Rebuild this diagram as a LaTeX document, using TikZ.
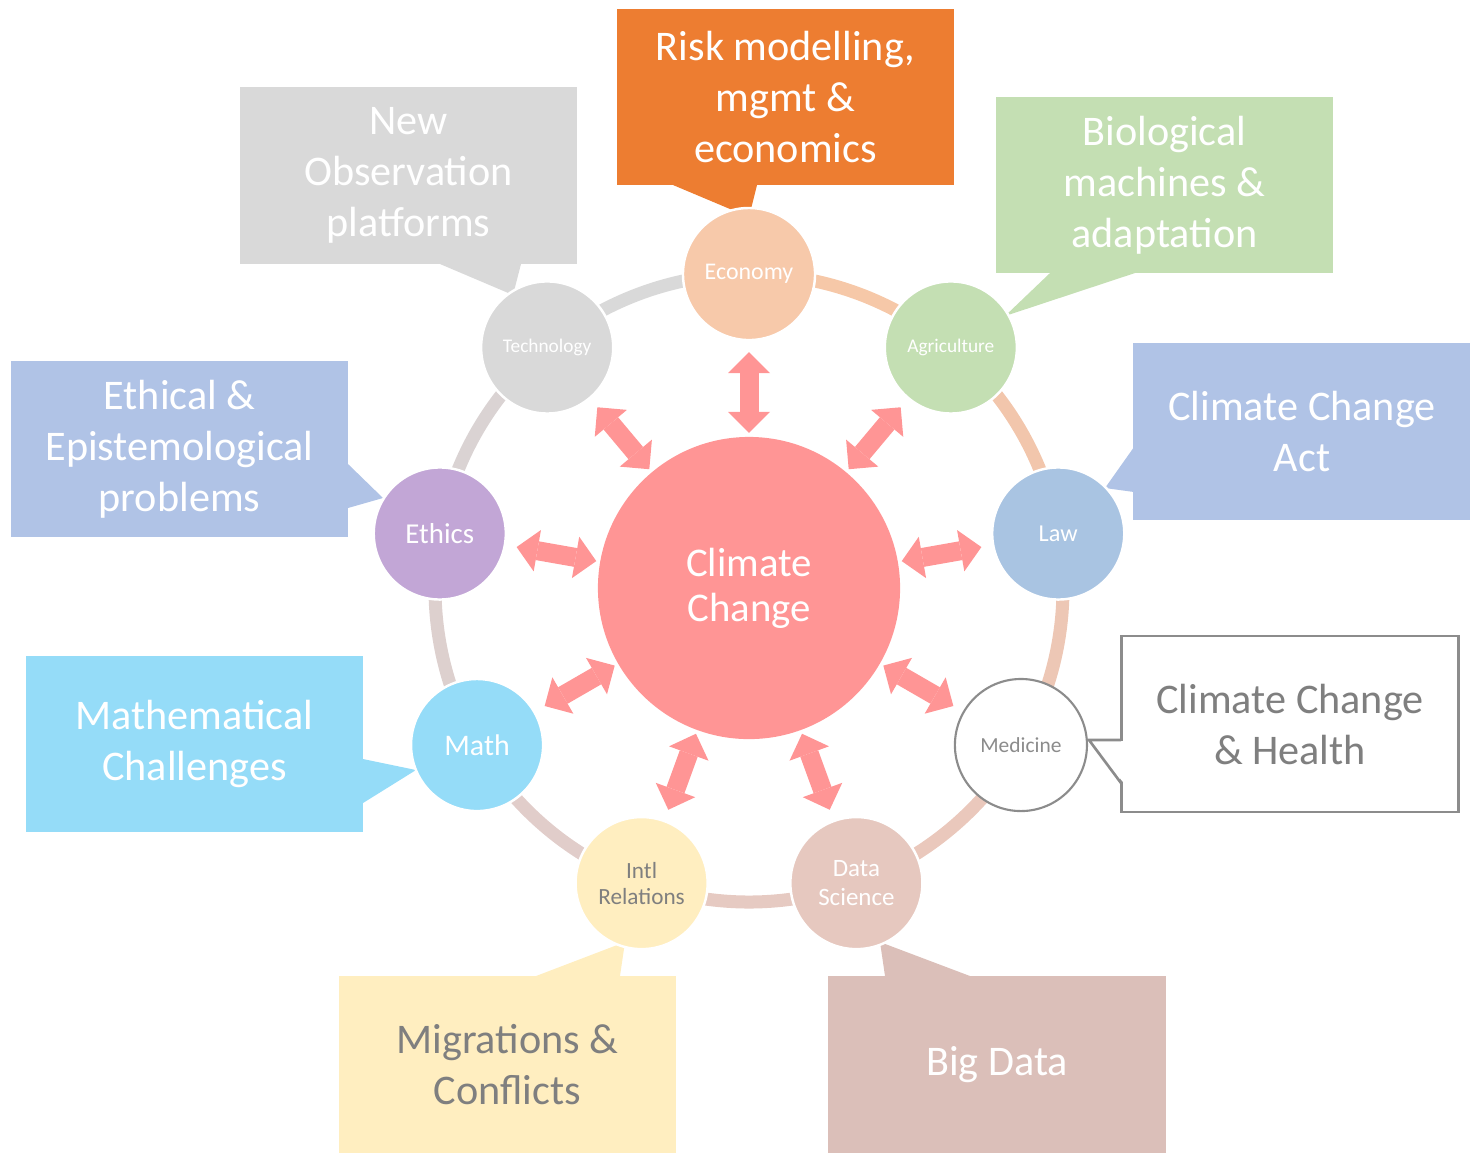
\documentclass[tikz,border=0pt]{standalone}
\usepackage{fontspec}
\setmainfont{Carlito}
\usetikzlibrary{arrows.meta, calc}

\definecolor{hubRed}{HTML}{FF9595}
\definecolor{riskOrange}{HTML}{ED7D31}
\definecolor{ecoPeach}{HTML}{F7C9AA}
\definecolor{techGray}{HTML}{D9D9D9}
\definecolor{agriGreen}{HTML}{C4DFB3}
\definecolor{lawBlue}{HTML}{A9C4E2}
\definecolor{actBlue}{HTML}{B0C3E6}
\definecolor{ethicsPurple}{HTML}{C2A6D6}
\definecolor{mathBlue}{HTML}{95DCF8}
\definecolor{intlYellow}{HTML}{FFEEC0}
\definecolor{dataRose}{HTML}{E6C8BF}
\definecolor{bigRose}{HTML}{DBBFB9}
\definecolor{lineGray}{HTML}{8C8C8C}
\definecolor{textGray}{HTML}{7F7F7F}

\definecolor{ringA}{HTML}{F6C8A8}
\definecolor{ringB}{HTML}{F2C6AC}
\definecolor{ringC}{HTML}{EDC7B5}
\definecolor{ringD}{HTML}{EAC8BC}
\definecolor{ringE}{HTML}{E6CAC2}
\definecolor{ringF}{HTML}{E1CDCA}
\definecolor{ringG}{HTML}{DDD0CE}
\definecolor{ringH}{HTML}{DAD3D3}
\definecolor{ringI}{HTML}{D9D9D9}

\tikzset{
	hub/.style={circle, minimum size=3.02cm, inner sep=0pt, outer sep=0pt, fill=hubRed, text=white, align=center, font=\fontsize{11.6}{12.8}\selectfont},
	bubble/.style={circle, minimum size=1.32cm, inner sep=0pt, outer sep=0pt, draw=white, line width=0.7pt, text=white, align=center},
	note/.style={rectangle, minimum width=3.37cm, minimum height=1.76cm, inner sep=0pt, outer sep=0pt, text=white, align=center, font=\fontsize{12}{14.5}\selectfont},
	ringArc/.style={line width=0.13cm},
	linkArrow/.style={draw=hubRed, line width=0.19cm, {Triangle[width=0.42cm, length=0.21cm, line width=0pt]}-{Triangle[width=0.42cm, length=0.21cm, line width=0pt]}, shorten <=0.04cm, shorten >=0.12cm}
}

\begin{document}
\begin{tikzpicture}[x=0.01cm, y=0.01cm]

	\useasboundingbox (0,0) rectangle (1470,-1153);

% Define coordinates.

	%hub
	\coordinate (cc) at (749,-588);

% Draw ring.

	\draw[ringArc, ringA] ($(cc)+(90:314)$) arc[start angle=90, end angle=50, radius=314];
	\draw[ringArc, ringB] ($(cc)+(50:314)$) arc[start angle=50, end angle=10, radius=314];
	\draw[ringArc, ringC] ($(cc)+(10:314)$) arc[start angle=10, end angle=-30, radius=314];
	\draw[ringArc, ringD] ($(cc)+(-30:314)$) arc[start angle=-30, end angle=-70, radius=314];
	\draw[ringArc, ringE] ($(cc)+(-70:314)$) arc[start angle=-70, end angle=-110, radius=314];
	\draw[ringArc, ringF] ($(cc)+(-110:314)$) arc[start angle=-110, end angle=-150, radius=314];
	\draw[ringArc, ringG] ($(cc)+(-150:314)$) arc[start angle=-150, end angle=-190, radius=314];
	\draw[ringArc, ringH] ($(cc)+(170:314)$) arc[start angle=170, end angle=130, radius=314];
	\draw[ringArc, ringI] ($(cc)+(130:314)$) arc[start angle=130, end angle=90, radius=314];

% Draw callout pointers.

	\fill[riskOrange] (673,-185) -- (749,-217) -- (757,-185) -- cycle;
	\fill[techGray] (440,-264) -- (513,-295) -- (521,-264) -- cycle;
	\fill[agriGreen] (1050,-273) -- (1005,-316) -- (1135,-273) -- cycle;
	\fill[actBlue] (1134,-447) -- (1105,-488) -- (1134,-492) -- cycle;
	\fill[actBlue] (348,-464) -- (383,-498) -- (348,-508) -- cycle;
	\fill[mathBlue] (363,-759) -- (416,-770) -- (363,-803) -- cycle;
	\fill[intlYellow] (536,-976) -- (625,-942) -- (620,-976) -- cycle;
	\fill[bigRose] (885,-976) -- (880,-942) -- (970,-976) -- cycle;

% Draw callouts.

	\node[note, fill=riskOrange] (risk) at (785.5,-97) {Risk modelling,\\mgmt \&\\economics};
	\node[note, fill=techGray] (platforms) at (408.5,-175.5) {New\\Observation\\platforms};
	\node[note, fill=agriGreen] (bio) at (1164.5,-185) {Biological\\machines \&\\adaptation};
	\node[note, fill=actBlue] (act) at (1302,-431.5) {Climate Change\\Act};
	\node[note, fill=actBlue] (episteme) at (179.5,-449) {Ethical \&\\Epistemological\\problems};
	\node[note, fill=mathBlue] (challenges) at (194.5,-744) {Mathematical\\Challenges};
	\node[note, fill=white, draw=lineGray, line width=0.75pt, text=textGray] (health) at (1290,-724) {Climate Change\\\& Health};
	\node[note, fill=intlYellow, text=textGray] (migrations) at (507.5,-1064.5) {Migrations \&\\Conflicts};
	\node[note, fill=bigRose] (bigdata) at (997,-1064.5) {Big Data};

	%health pointer
	\fill[white] (1123,-741) -- (1089,-741) -- (1123,-782) -- cycle;
	\draw[lineGray, line width=0.75pt] (1121,-740) -- (1089,-740) -- (1121,-783);

% Draw ring circles.

	\node[bubble, fill=ecoPeach, font=\fontsize{6.8}{8}\selectfont] (eco) at ($(cc)+(90:314)$) {Economy};
	\node[bubble, fill=agriGreen, font=\fontsize{5.5}{6.5}\selectfont] (agri) at ($(cc)+(50:314)$) {Agriculture};
	\node[bubble, fill=lawBlue, font=\fontsize{6.9}{8}\selectfont] (law) at ($(cc)+(10:314)$) {Law};
	\node[bubble, fill=white, draw=lineGray, line width=0.6pt, text=lineGray, font=\fontsize{6.1}{7}\selectfont] (med) at ($(cc)+(-30:314)$) {Medicine};
	\node[bubble, fill=dataRose, font=\fontsize{7.1}{8.2}\selectfont] (ds) at ($(cc)+(-70:314)$) {Data\\Science};
	\node[bubble, fill=intlYellow, text=textGray, font=\fontsize{6.6}{7.4}\selectfont] (intl) at ($(cc)+(-110:314)$) {Intl\\Relations};
	\node[bubble, fill=mathBlue, font=\fontsize{8.5}{9.5}\selectfont] (math) at ($(cc)+(-150:314)$) {Math};
	\node[bubble, fill=ethicsPurple, font=\fontsize{8.2}{9.5}\selectfont] (ethics) at ($(cc)+(170:314)$) {Ethics};
	\node[bubble, fill=techGray, font=\fontsize{5.5}{6.5}\selectfont] (tech) at ($(cc)+(130:314)$) {Technology};

% Draw hub.

	\node[hub] (hub) at (cc) {Climate\\Change};

% Draw link arrows.

	\draw[linkArrow] (hub) -- (eco);
	\draw[linkArrow] (hub) -- (agri);
	\draw[linkArrow] (hub) -- (law);
	\draw[linkArrow] (hub) -- (med);
	\draw[linkArrow] (hub) -- (ds);
	\draw[linkArrow] (hub) -- (intl);
	\draw[linkArrow] (hub) -- (math);
	\draw[linkArrow] (hub) -- (ethics);
	\draw[linkArrow] (hub) -- (tech);

\end{tikzpicture}
\end{document}
